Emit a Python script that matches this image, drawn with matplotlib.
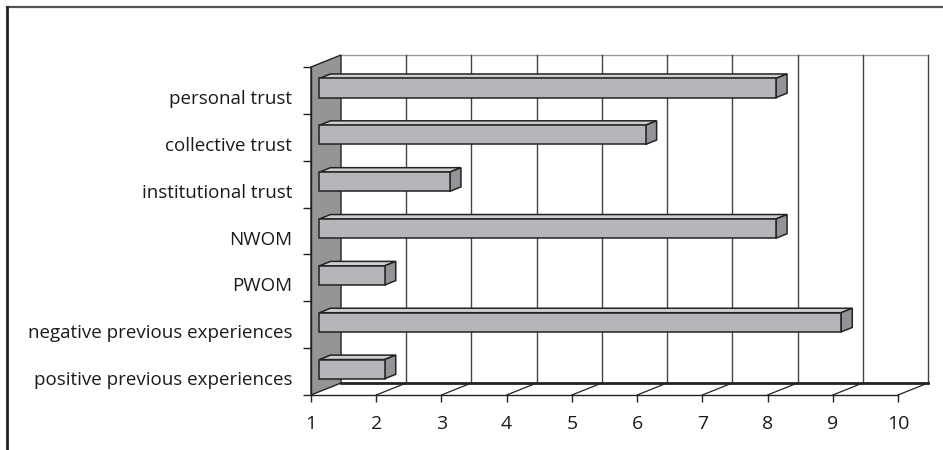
import matplotlib
matplotlib.use("Agg")
import matplotlib.pyplot as plt
from matplotlib.patches import Polygon
from matplotlib.lines import Line2D

plt.rcParams['font.family'] = ['Open Sans', 'DejaVu Sans']

# data
categories = ['positive previous experiences', 'negative previous experiences',
              'PWOM', 'NWOM', 'institutional trust', 'collective trust',
              'personal trust']
values = [2, 9, 2, 8, 3, 6, 8]
x_ticks = [1, 2, 3, 4, 5, 6, 7, 8, 9, 10]

# fake 3D look (depth offset in data units)
DX, DY = 0.46, 0.256
F1, F2 = 0.28, 0.65
BAR_H = 0.41
EDGE = '#222222'

fig = plt.figure(figsize=(9.43, 4.5), dpi=100)
ax = fig.add_axes([311 / 943, 55 / 450, 587 / 943, 328 / 450])
x0, x1 = x_ticks[0], x_ticks[-1]
n = len(categories)
ax.set_xlim(x0, x1)
ax.set_ylim(0, n)

# back wall with gridlines
ax.add_patch(Polygon([(x0 + DX, DY), (x1 + DX, DY), (x1 + DX, n + DY), (x0 + DX, n + DY)],
                     closed=True, facecolor='white', edgecolor='none', clip_on=False, zorder=0))
ax.add_line(Line2D([x0 + DX, x1 + DX], [n + DY, n + DY], color='#9a9a9a', lw=1, clip_on=False, zorder=1))
for x in x_ticks[1:]:
    ax.add_line(Line2D([x + DX, x + DX], [DY, n + DY], color='#444444', lw=1, clip_on=False, zorder=1))
ax.add_line(Line2D([x0 + DX, x1 + DX], [DY, DY], color=EDGE, lw=2, clip_on=False, zorder=1))

# floor lines
for x in x_ticks[1:]:
    ax.add_line(Line2D([x, x + DX], [0, DY], color=EDGE, lw=0.9, clip_on=False, zorder=1))

# left side wall
ax.add_patch(Polygon([(x0, 0), (x0 + DX, DY), (x0 + DX, n + DY), (x0, n)],
                     closed=True, facecolor='#959595', edgecolor=EDGE, lw=1, clip_on=False, zorder=2))

# bars
for i, v in enumerate(values):
    yb = i + 0.48 - BAR_H / 2 + F1 * DY
    yt = yb + BAR_H
    xa = x0 + F1 * DX
    xb = v + F1 * DX
    ddx = (F2 - F1) * DX
    ddy = (F2 - F1) * DY
    front = [(xa, yb), (xb, yb), (xb, yt), (xa, yt)]
    top = [(xa, yt), (xb, yt), (xb + ddx, yt + ddy), (xa + ddx, yt + ddy)]
    side = [(xb, yb), (xb + ddx, yb + ddy), (xb + ddx, yt + ddy), (xb, yt)]
    ax.add_patch(Polygon(top, closed=True, facecolor='#cdcfd1', edgecolor=EDGE, lw=1.1, clip_on=False, zorder=3))
    ax.add_patch(Polygon(side, closed=True, facecolor='#929497', edgecolor=EDGE, lw=1.1, clip_on=False, zorder=3))
    ax.add_patch(Polygon(front, closed=True, facecolor='#b4b6b9', edgecolor=EDGE, lw=1.1, clip_on=False, zorder=3))

# axes
ax.patch.set_visible(False)
for s in ['top', 'right']:
    ax.spines[s].set_visible(False)
for s in ['left', 'bottom']:
    ax.spines[s].set_color(EDGE)
    ax.spines[s].set_linewidth(1)
    ax.spines[s].set_zorder(4)

ax.set_xticks(x_ticks)
ax.set_xticklabels([str(t) for t in x_ticks])
ax.tick_params(axis='x', direction='out', length=5, width=1, color=EDGE, pad=9.5,
               labelsize=14, labelcolor='#1a1a1a')

ax.set_yticks(range(n + 1))
ax.set_yticklabels([])
ax.set_yticks([i + 0.36 for i in range(n)], minor=True)
ax.set_yticklabels(categories, minor=True)
ax.tick_params(axis='y', which='major', direction='out', length=6, width=1, color=EDGE)
ax.tick_params(axis='y', which='minor', length=0, pad=13.5, labelsize=13.5, labelcolor='#1a1a1a')

# outer frame (only top and left visible)
fig.add_artist(Line2D([7 / 943, 1], [1 - 7 / 450, 1 - 7 / 450], transform=fig.transFigure,
                      color='#555555', lw=1.6))
fig.add_artist(Line2D([7 / 943, 7 / 943], [0, 1 - 7 / 450], transform=fig.transFigure,
                      color='#222222', lw=2))

fig.savefig('out.png', dpi=100)
